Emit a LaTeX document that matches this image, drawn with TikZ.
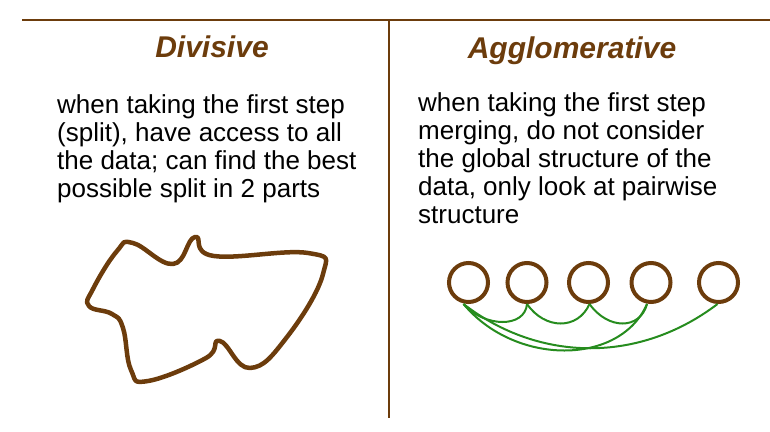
\documentclass[tikz,border=0pt]{standalone}
\usepackage{fontspec}
\setmainfont{Liberation Sans}
\begin{document}
\definecolor{bark}{RGB}{108,60,12}
\definecolor{merge}{RGB}{38,140,30}
\begin{tikzpicture}[x=1pt,y=-1pt,
  rule/.style={draw=bark,line width=2.6pt},
  heading/.style={text=bark,font=\fontsize{30}{30}\selectfont\bfseries\itshape,anchor=base,inner sep=0pt},
  body/.style={font=\fontsize{26}{28}\selectfont,align=left,anchor=base west,inner sep=0pt},
  cluster/.style={circle,draw=bark,line width=4pt,minimum size=39pt,inner sep=0pt},
  link/.style={draw=merge,line width=2pt},
  outline/.style={draw=bark,line width=4.5pt,line join=round}]
\useasboundingbox (0,0) rectangle (770,431);

% frame: top rule and the column divider
\coordinate (ruleL) at (22,20);
\coordinate (ruleR) at (770,20);
\coordinate (divTop) at (389,20);
\coordinate (divBot) at (389,418);
\draw[rule] (ruleL) -- (ruleR);
\draw[rule] (divTop) -- (divBot);

% headings
\node[heading] (divisive) at (212,57) {Divisive};
\node[heading] (agglo) at (572,58) {Agglomerative};

% explanations (anchored at the baseline of the last line)
\node[body] (divtext) at (57,197) {when taking the first step\\(split), have access to all\\the data; can find the best\\possible split in 2 parts};
\node[body] (aggtext) at (418,223) {when taking the first step\\merging, do not consider\\the global structure of the\\data, only look at pairwise\\structure};

% the whole data set as one irregular region
\draw[outline] plot[smooth cycle,tension=0.75] coordinates {
  (133,243) (173,264) (195,237) (214,256) (308,253) (323,274)
  (287,337) (250,368) (220,341) (206,358) (148,381) (131,370)
  (123,328) (112,314) (89,306) (93,289) (117,251)};

% single points as clusters
\node[cluster] (c1) at (468.5,282.5) {};
\node[cluster] (c2) at (527,282.5) {};
\node[cluster] (c3) at (588.5,282.5) {};
\node[cluster] (c4) at (651,282.5) {};
\node[cluster] (c5) at (718.5,282.5) {};

% pairwise merges
\draw[link] ([xshift=-5pt]c1.south) .. controls (485,328) and (525,328) .. ([xshift=0pt]c2.south);
\draw[link] ([xshift=0pt]c2.south) .. controls (545,330) and (578,330) .. ([xshift=1pt]c3.south);
\draw[link] ([xshift=1pt]c3.south) .. controls (608,330) and (640,330) .. ([xshift=-4pt]c4.south);
\draw[link] ([xshift=-5pt]c1.south) .. controls (515,366) and (620,366) .. ([xshift=-4pt]c4.south);
\draw[link] ([xshift=-5pt]c1.south) .. controls (540,363) and (640,363) .. ([xshift=-1pt]c5.south);
\end{tikzpicture}
\end{document}
